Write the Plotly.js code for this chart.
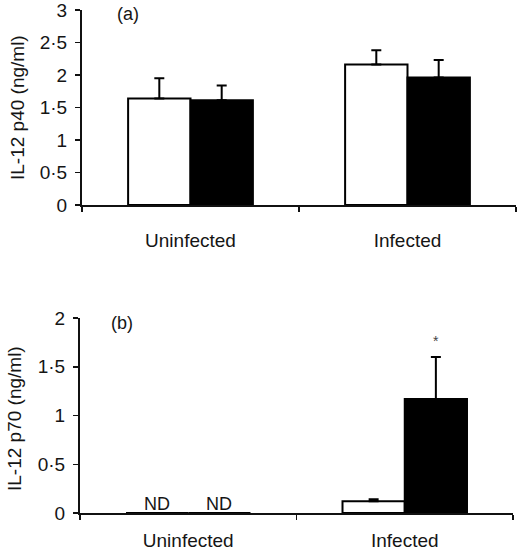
<!DOCTYPE html>
<html><head><meta charset="utf-8">
<script src="https://cdn.plot.ly/plotly-3.0.1.min.js"></script>
</head><body style="margin:0;background:#fff">
<div id="chart" style="width:517px;height:553px"></div>
<script>
// ---- data ----
const categories = ['Uninfected', 'Infected'];
const p40Open = [1.64, 2.16];
const p40OpenErr = [0.31, 0.22];
const p40Solid = [1.61, 1.96];
const p40SolidErr = [0.23, 0.27];
const p70Open = [0, 0.12];
const p70OpenErr = [0, 0.02];
const p70Solid = [0, 1.17];
const p70SolidErr = [0, 0.43];
const p70NotDetected = [true, false];
const p70Signif = [false, true];
const p40Ticks = [0, 0.5, 1, 1.5, 2, 2.5, 3];
const p70Ticks = [0, 0.5, 1, 1.5, 2];
const p40Title = 'IL-12 p40 (ng/ml)';
const p70Title = 'IL-12 p70 (ng/ml)';

const fmt = v => String(v).replace('.', '·');
const W = 517, H = 553;
const FONT = 'Liberation Sans, Arial, sans-serif';
const TXT = '#151515';
const bargap = 0.425;
const off = (1 - bargap) / 4;

function bar(y, err, fill, xa, ya) {
  return {
    type: 'bar', x: categories, y: y, xaxis: xa, yaxis: ya,
    marker: {color: fill, line: {color: '#000', width: 2}},
    error_y: {type: 'data', symmetric: false, array: err, arrayminus: err.map(() => 0),
              color: '#000', thickness: 2, width: 5},
    hoverinfo: 'none', showlegend: false, cliponaxis: false
  };
}

const data = [
  bar(p40Open, p40OpenErr, '#fff', 'x', 'y'),
  bar(p40Solid, p40SolidErr, '#000', 'x', 'y'),
  bar(p70Open, p70OpenErr, '#fff', 'x2', 'y2'),
  bar(p70Solid, p70SolidErr, '#000', 'x2', 'y2')
];

const tickFont = {family: FONT, size: 19, color: TXT};
function xax(d0, d1, anchor, standoff) {
  return {domain: [d0 / W, d1 / W], anchor: anchor, type: 'category', range: [-0.5, 1.5],
    showline: true, linecolor: '#111', linewidth: 2, ticks: 'outside', tickson: 'boundaries',
    ticklen: 5, tickwidth: 1.5, tickcolor: '#111', showgrid: false, zeroline: false,
    tickfont: tickFont, ticklabelstandoff: standoff, ticklabeloverflow: 'allow', fixedrange: true};
}
function yax(top, bottom, anchor, ticks) {
  return {domain: [(H - bottom) / H, (H - top) / H], anchor: anchor,
    range: [ticks[0], ticks[ticks.length - 1]], tickvals: ticks, ticktext: ticks.map(fmt),
    showline: true, linecolor: '#111', linewidth: 2, ticks: 'outside', ticklen: 5,
    tickwidth: 1.5, tickcolor: '#111', showgrid: false, zeroline: false,
    tickfont: tickFont, ticklabelstandoff: 4, ticklabeloverflow: 'allow', fixedrange: true};
}

const annotations = [
  {xref: 'paper', yref: 'paper', x: 128 / W, y: 1 - 14 / H, text: '(a)', showarrow: false,
   xanchor: 'center', yanchor: 'middle', font: {family: FONT, size: 18, color: TXT}},
  {xref: 'paper', yref: 'paper', x: 122 / W, y: 1 - 323 / H, text: '(b)', showarrow: false,
   xanchor: 'center', yanchor: 'middle', font: {family: FONT, size: 18, color: TXT}},
  {xref: 'paper', yref: 'paper', x: 17 / W, y: 1 - 108 / H, text: p40Title, textangle: -90,
   showarrow: false, xanchor: 'center', yanchor: 'middle', font: {family: FONT, size: 19, color: TXT}},
  {xref: 'paper', yref: 'paper', x: 14 / W, y: 1 - 419 / H, text: p70Title, textangle: -90,
   showarrow: false, xanchor: 'center', yanchor: 'middle', font: {family: FONT, size: 19, color: TXT}}
];
categories.forEach((c, i) => {
  if (p70NotDetected[i]) {
    [-off, off].forEach(o => annotations.push({xref: 'x2', yref: 'y2', x: i + o, y: 0, text: 'ND',
      showarrow: false, xanchor: 'center', yanchor: 'bottom', yshift: -3,
      font: {family: FONT, size: 18, color: TXT}}));
  }
  if (p70Signif[i]) {
    annotations.push({xref: 'x2', yref: 'y2', x: i + off, y: p70Solid[i] + p70SolidErr[i], text: '*',
      showarrow: false, xanchor: 'center', yanchor: 'bottom', yshift: 6,
      font: {family: FONT, size: 14, color: '#444'}});
  }
});

const layout = {
  width: W, height: H, margin: {l: 0, r: 0, t: 0, b: 0},
  paper_bgcolor: '#fff', plot_bgcolor: '#fff',
  barmode: 'group', bargap: bargap, bargroupgap: 0,
  xaxis: xax(82, 516, 'y', 17), yaxis: yax(10, 205, 'x', p40Ticks),
  xaxis2: xax(80, 513, 'y2', 9), yaxis2: yax(318, 513, 'x2', p70Ticks),
  annotations: annotations, showlegend: false
};
Plotly.newPlot('chart', data, layout, {displayModeBar: false, staticPlot: true});
</script>
</body></html>
